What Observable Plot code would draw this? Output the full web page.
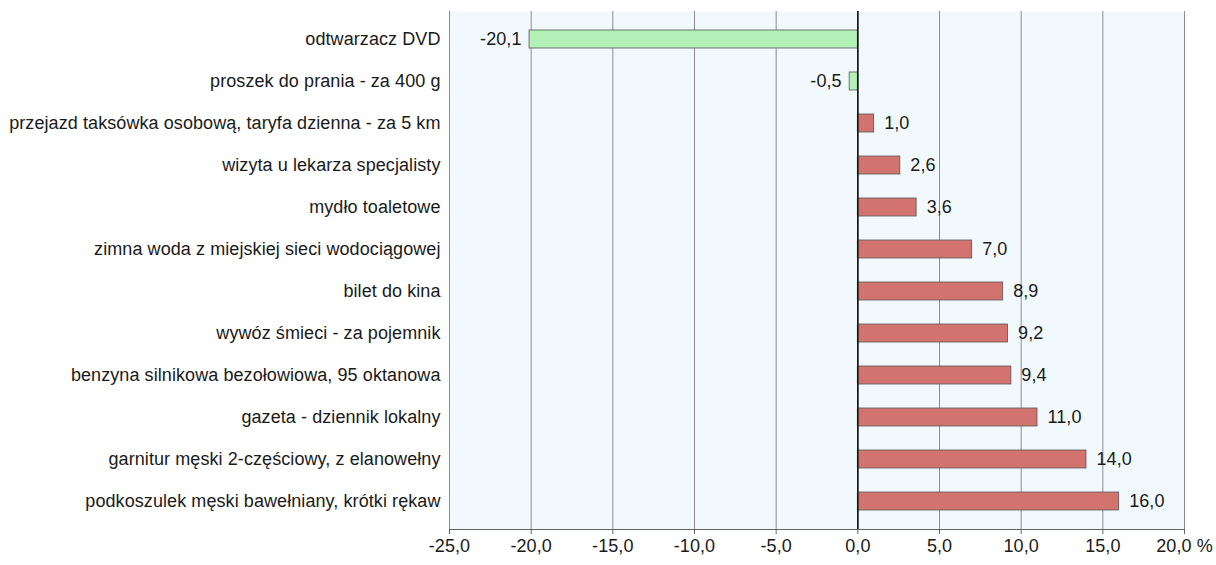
<!DOCTYPE html>
<html>
<head>
<meta charset="utf-8">
<script src="https://cdn.jsdelivr.net/npm/d3@7"></script>
<script src="https://cdn.jsdelivr.net/npm/@observablehq/plot@0.6"></script>
<style>
  html, body { margin: 0; padding: 0; background: #ffffff; }
  #chart svg { display: block; }
  #chart svg text { letter-spacing: 0.08px; }
</style>
</head>
<body>
<div id="chart"></div>
<script>
const categories = [
  "odtwarzacz DVD",
  "proszek do prania - za 400 g",
  "przejazd taksówka osobową, taryfa dzienna - za 5 km",
  "wizyta u lekarza specjalisty",
  "mydło toaletowe",
  "zimna woda z miejskiej sieci wodociągowej",
  "bilet do kina",
  "wywóz śmieci - za pojemnik",
  "benzyna silnikowa bezołowiowa, 95 oktanowa",
  "gazeta - dziennik lokalny",
  "garnitur męski 2-częściowy, z elanowełny",
  "podkoszulek męski bawełniany, krótki rękaw"
];
const values = [-20.1, -0.5, 1.0, 2.6, 3.6, 7.0, 8.9, 9.2, 9.4, 11.0, 14.0, 16.0];
const xTicks = [-25, -20, -15, -10, -5, 0, 5, 10, 15, 20];
const unitLabel = " %";

const data = categories.map((name, i) => ({name, value: values[i]}));
const fmt = v => v.toFixed(1).replace(".", ",");
const font = "'Liberation Sans', Arial, sans-serif";

const chart = Plot.plot({
  width: 1216,
  height: 565,
  marginLeft: 449,
  marginRight: 32,
  marginTop: 11,
  marginBottom: 36,
  style: {fontFamily: font, fontSize: "18px", color: "#1a1a1a", background: "#ffffff"},
  x: {domain: [-25, 20], ticks: xTicks, label: null},
  y: {domain: categories, paddingInner: 0.56, paddingOuter: 0.34, label: null},
  color: {domain: ["neg", "pos"], range: ["#b3f1b9", "#d27370"]},
  marks: [
    Plot.frame({fill: "#f2f9fc", stroke: null}),
    Plot.gridX(xTicks, {stroke: "#8c8c8c", strokeOpacity: 1, strokeWidth: 1}),
    Plot.barX(data, {
      x: "value", y: "name",
      fill: d => d.value < 0 ? "neg" : "pos",
      stroke: "#555555", strokeWidth: 0.8
    }),
    Plot.ruleX([0], {stroke: "#111111", strokeWidth: 1.6}),
    Plot.text(data.filter(d => d.value >= 0), {
      x: "value", y: "name", text: d => fmt(d.value),
      textAnchor: "start", dx: 10, fontSize: 18, fill: "#1a1a1a"
    }),
    Plot.text(data.filter(d => d.value < 0), {
      x: "value", y: "name", text: d => fmt(d.value),
      textAnchor: "end", dx: -8, fontSize: 18, fill: "#1a1a1a"
    }),
    Plot.frame({anchor: "bottom", stroke: "#666666"}),
    Plot.axisX(xTicks, {
      tickSize: 5, tickPadding: 5, stroke: "#666666",
      tickFormat: d => fmt(d) + (d === 20 ? unitLabel : ""),
      fontSize: 18, fill: "#1a1a1a", label: null
    }),
    Plot.axisY({tickSize: 0, tickPadding: 9, fontSize: 18, fill: "#1a1a1a", label: null})
  ]
});
document.getElementById("chart").appendChild(chart);
</script>
</body>
</html>
